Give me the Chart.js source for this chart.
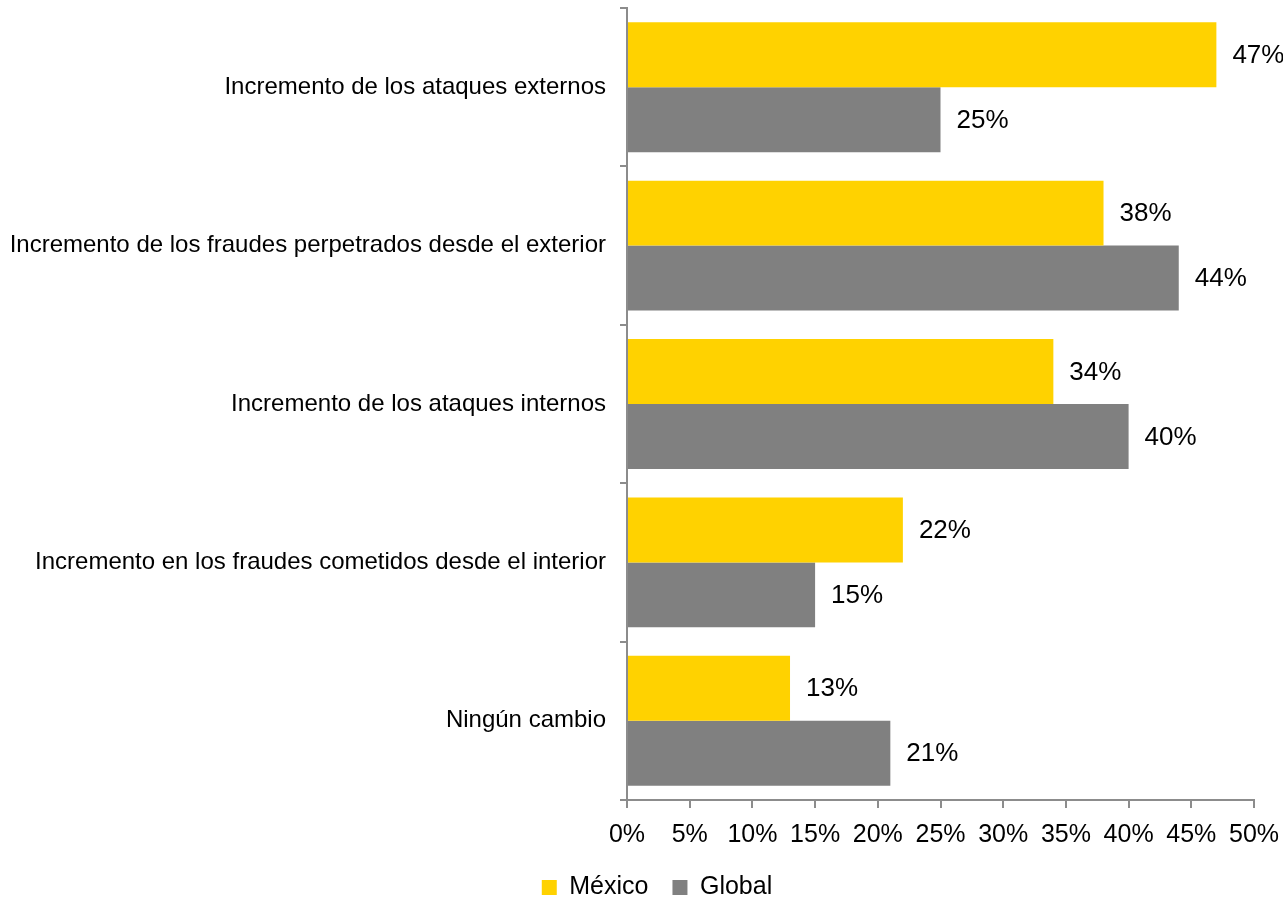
<!DOCTYPE html>
<html>
<head>
<meta charset="utf-8">
<script src="https://cdn.jsdelivr.net/npm/chart.js@4/dist/chart.umd.min.js"></script>
<style>
  html, body { margin: 0; padding: 0; background: #fff; }
  #wrap { width: 1283px; height: 901px; }
</style>
</head>
<body>
<div id="wrap"><canvas id="myChart" width="1283" height="901"></canvas></div>
<script>
var categorias = [
    "Incremento de los ataques externos",
    "Incremento de los fraudes perpetrados desde el exterior",
    "Incremento de los ataques internos",
    "Incremento en los fraudes cometidos desde el interior",
    "Ningún cambio"
]
var mexico = [47, 38, 34, 22, 13]
var global = [25, 44, 40, 15, 21]
var ticksX = [0, 5, 10, 15, 20, 25, 30, 35, 40, 45, 50]

var FONT = "'Liberation Sans', Arial, sans-serif"
var AXIS = "#8c8c8c"

Chart.defaults.font.family = FONT
Chart.defaults.font.size = 24
Chart.defaults.color = "#000"

// value labels at the end of each bar
var etiquetas = {
    id: "etiquetas",
    afterDatasetsDraw: function(chart){
        var ctx = chart.ctx
        ctx.save()
        ctx.font = "26px " + FONT
        ctx.fillStyle = "#000"
        ctx.textAlign = "left"
        ctx.textBaseline = "middle"
        chart.data.datasets.forEach(function(ds, i){
            chart.getDatasetMeta(i).data.forEach(function(bar, j){
                ctx.fillText(ds.data[j] + "%", bar.x + 16, bar.y + 1)
            })
        })
        ctx.restore()
    }
}

// legend sits a bit lower and right of the default spot
var moverLeyenda = {
    id: "moverLeyenda",
    afterLayout: function(chart){
        var lg = chart.legend
        var h = lg.bottom - lg.top
        lg.top = 851
        lg.bottom = lg.top + h
        lg.left += 30
        lg.right += 30
    }
}

var chart = new Chart(document.getElementById("myChart").getContext("2d"), {
    type: "bar",
    data: {
        labels: categorias,
        datasets: [
            { label: "México", data: mexico, backgroundColor: "#FFD200" },
            { label: "Global", data: global, backgroundColor: "#808080" }
        ]
    },
    options: {
        indexAxis: "y",
        responsive: false,
        animation: false,
        layout: { padding: { top: 8, right: 29, left: 0, bottom: 0 } },
        datasets: { bar: { categoryPercentage: 0.82, barPercentage: 1 } },
        scales: {
            y: {
                afterFit: function(scale){
                    scale.width = 627
                    scale.paddingTop = 0
                    scale.paddingBottom = 0
                },
                grid: { drawOnChartArea: false, offset: true, tickLength: 7, color: AXIS, lineWidth: 2 },
                border: { color: AXIS, width: 2 },
                ticks: { padding: 14, font: { size: 24 } }
            },
            x: {
                min: 0,
                max: 50,
                afterBuildTicks: function(scale){
                    scale.ticks = ticksX.map(function(v){ return { value: v } })
                },
                afterFit: function(scale){
                    scale.height = 56
                    scale.paddingLeft = 0
                    scale.paddingRight = 0
                },
                grid: { drawOnChartArea: false, tickLength: 8, color: AXIS, lineWidth: 2 },
                border: { color: AXIS, width: 2 },
                ticks: {
                    padding: 12,
                    maxRotation: 0,
                    autoSkip: false,
                    font: { size: 25 },
                    callback: function(v){ return v + "%" }
                }
            }
        },
        plugins: {
            legend: {
                position: "bottom",
                maxHeight: 45,
                labels: { boxWidth: 15, boxHeight: 15, padding: 24, font: { size: 25 } }
            },
            tooltip: { enabled: false }
        }
    },
    plugins: [etiquetas, moverLeyenda]
})
</script>
</body>
</html>
